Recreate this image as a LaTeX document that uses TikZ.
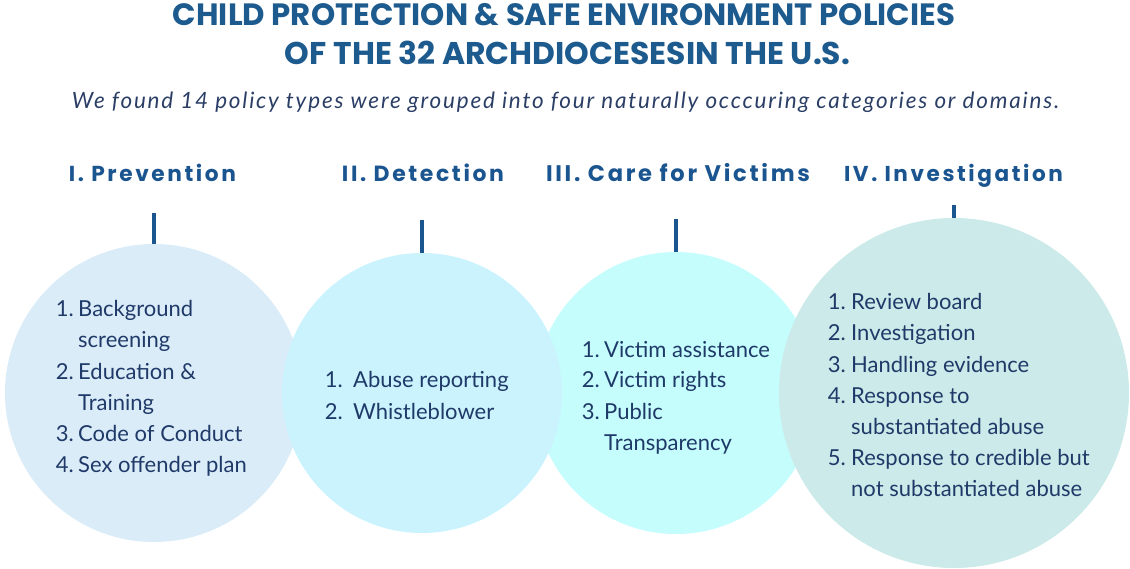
\documentclass[tikz,border=0pt]{standalone}
\usepackage{fontspec}
\usepackage{graphicx}
\setmainfont{Lato}
\newfontfamily\titlefont{Poppins}
\newfontfamily\headfont[LetterSpace=12]{Poppins}
\newfontfamily\subfont[LetterSpace=8]{Lato}
\definecolor{titleblue}{HTML}{1D5B8F}
\definecolor{headblue}{HTML}{1B5590}
\definecolor{tickblue}{HTML}{1A5590}
\definecolor{bodyblue}{HTML}{1F3A68}
\definecolor{subgray}{HTML}{2B3F66}
\definecolor{fillA}{HTML}{DBECF9}
\definecolor{fillB}{HTML}{CAF3FD}
\definecolor{fillC}{HTML}{C4FDFC}
\definecolor{fillD}{HTML}{CBEAE9}
\newcommand{\pitem}[6]{%
  \node[numsty, anchor=base east] (#1n) at (#2,#4) {#5};
  \node[txtsty, anchor=base west] (#1t) at (#3,#4) {#6};}
\newcommand{\pcont}[4]{%
  \node[txtsty, anchor=base west] (#1) at (#2,#3) {#4};}
\begin{document}
\begin{tikzpicture}[x=1pt,y=-1pt,
  bubble/.style={circle, inner sep=0pt, draw=none},
  numsty/.style={inner sep=0pt, text=bodyblue, font=\fontsize{22}{26}\selectfont},
  txtsty/.style={inner sep=0pt, text=bodyblue, font=\fontsize{22}{26}\selectfont},
  headsty/.style={inner sep=0pt, text=headblue, anchor=base},
  titlesty/.style={inner sep=0pt, text=titleblue, anchor=base},
  ticksty/.style={draw=tickblue, line width=3.5pt}]
\useasboundingbox (0,0) rectangle (1130,569);

% title
\node[titlesty] (title1) at (564,26) {\resizebox{782pt}{!}{\titlefont\fontsize{26}{30}\selectfont\bfseries CHILD PROTECTION \& SAFE ENVIRONMENT POLICIES}};
\node[titlesty] (title2) at (567.5,65) {\resizebox{565pt}{!}{\titlefont\fontsize{26}{30}\selectfont\bfseries OF THE 32 ARCHDIOCESESIN THE U.S.}};
\node[inner sep=0pt, text=subgray, anchor=base] (sub) at (565.5,109) {\resizebox{987pt}{!}{\subfont\fontsize{18}{22}\selectfont\itshape We found 14 policy types were grouped into four naturally occcuring categories or domains.}};

% headings
\node[headsty] (h1) at (152.5,182) {\resizebox{167pt}{!}{\headfont\fontsize{24}{28}\selectfont\bfseries I. Prevention}};
\node[headsty] (h2) at (423,182) {\resizebox{162pt}{!}{\headfont\fontsize{24}{28}\selectfont\bfseries II. Detection}};
\node[headsty] (h3) at (678,182) {\resizebox{264pt}{!}{\headfont\fontsize{24}{28}\selectfont\bfseries III. Care for Victims}};
\node[headsty] (h4) at (953.5,182) {\resizebox{219pt}{!}{\headfont\fontsize{24}{28}\selectfont\bfseries IV. Investigation}};

% bubbles (drawing order: 1, 3, 2, 4)
\node[bubble, fill=fillA, minimum size=298pt] (c1) at (154,393) {};
\node[bubble, fill=fillC, minimum size=282pt] (c3) at (676,393) {};
\node[bubble, fill=fillB, minimum size=280pt] (c2) at (422,393) {};
\node[bubble, fill=fillD, minimum size=350pt] (c4) at (954,393) {};

% ticks
\coordinate (k1) at (154,213);
\coordinate (k2) at (422,220);
\coordinate (k3) at (676,219);
\coordinate (k4) at (954,205);
\draw[ticksty] (k1) -- (c1.north);
\draw[ticksty] (k2) -- (c2.north);
\draw[ticksty] (k3) -- (c3.north);
\draw[ticksty] (k4) -- (c4.north);

% list 1
\pitem{a1}{74}{78}{317}{1.}{Background}
\pcont{a1b}{78}{348}{screening}
\pitem{a2}{74}{78}{379}{2.}{Education \&}
\pcont{a2b}{78}{410}{Training}
\pitem{a3}{74}{78}{441}{3.}{Code of Conduct}
\pitem{a4}{74}{78}{472}{4.}{Sex offender plan}

% list 2
\pitem{b1}{343}{353}{388}{1.}{Abuse reporting}
\pitem{b2}{343}{353}{419}{2.}{Whistleblower}

% list 3
\pitem{d1}{600}{604}{357}{1.}{Victim assistance}
\pitem{d2}{600}{604}{388}{2.}{Victim rights}
\pitem{d3}{600}{604}{419}{3.}{Public}
\pcont{d3b}{604}{450}{Transparency}

% list 4
\pitem{e1}{846}{851}{310}{1.}{Review board}
\pitem{e2}{846}{851}{341}{2.}{Investigation}
\pitem{e3}{846}{851}{372}{3.}{Handling evidence}
\pitem{e4}{846}{851}{403}{4.}{Response to}
\pcont{e4b}{851}{434}{substantiated abuse}
\pitem{e5}{846}{851}{465}{5.}{Response to credible but}
\pcont{e5b}{851}{496}{not substantiated abuse}
\end{tikzpicture}
\end{document}
